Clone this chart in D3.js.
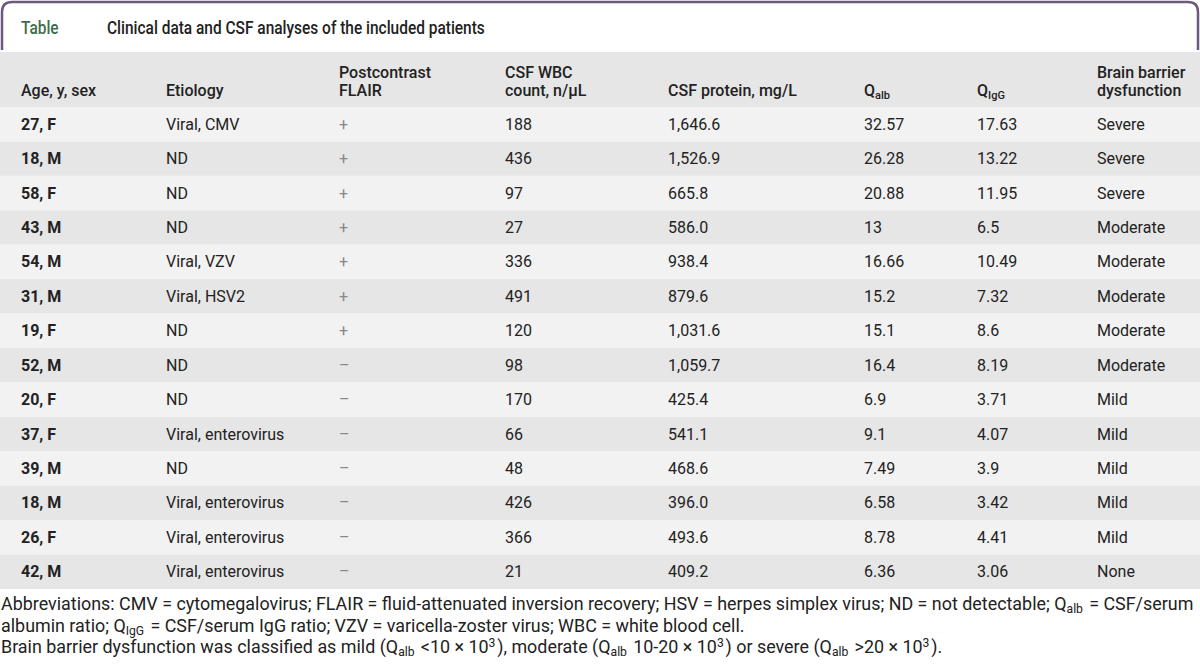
<!DOCTYPE html>
<html>
<head>
<meta charset="utf-8">
<script src="https://cdn.jsdelivr.net/npm/d3@7"></script>
<style>
  body { margin: 0; background: #fff; }
  svg text { font-family: Roboto, "Liberation Sans", sans-serif; fill: #222; }
</style>
</head>
<body>
<div id="chart"></div>
<script>
var width = 1200, height = 670;

// table content
var ages      = ["27, F","18, M","58, F","43, M","54, M","31, M","19, F","52, M","20, F","37, F","39, M","18, M","26, F","42, M"];
var etiology  = ["Viral, CMV","ND","ND","ND","Viral, VZV","Viral, HSV2","ND","ND","ND","Viral, enterovirus","ND","Viral, enterovirus","Viral, enterovirus","Viral, enterovirus"];
var flair     = ["+","+","+","+","+","+","+","–","–","–","–","–","–","–"];
var wbc       = ["188","436","97","27","336","491","120","98","170","66","48","426","366","21"];
var protein   = ["1,646.6","1,526.9","665.8","586.0","938.4","879.6","1,031.6","1,059.7","425.4","541.1","468.6","396.0","493.6","409.2"];
var qalb      = ["32.57","26.28","20.88","13","16.66","15.2","15.1","16.4","6.9","9.1","7.49","6.58","8.78","6.36"];
var qigg      = ["17.63","13.22","11.95","6.5","10.49","7.32","8.6","8.19","3.71","4.07","3.9","3.42","4.41","3.06"];
var barrier   = ["Severe","Severe","Severe","Moderate","Moderate","Moderate","Moderate","Moderate","Mild","Mild","Mild","Mild","Mild","None"];
var headers   = [["Age, y, sex"],["Etiology"],["Postcontrast","FLAIR"],["CSF WBC","count, n/\u03bcL"],["CSF protein, mg/L"],["Q|alb"],["Q|IgG"],["Brain barrier","dysfunction"]];
var notes = [
  "Abbreviations: CMV = cytomegalovirus; FLAIR = fluid-attenuated inversion recovery; HSV = herpes simplex virus; ND = not detectable; Q|alb| = CSF/serum",
  "albumin ratio; Q|IgG| = CSF/serum IgG ratio; VZV = varicella-zoster virus; WBC = white blood cell.",
  "Brain barrier dysfunction was classified as mild (Q|alb| <10 \u00d7 10^3^), moderate (Q|alb| 10-20 \u00d7 10^3^) or severe (Q|alb| >20 \u00d7 10^3^)."
];

var columns = [ages, etiology, flair, wbc, protein, qalb, qigg, barrier];
var colX = [21, 166, 339, 505, 668, 864, 977, 1097];

var svg = d3.select("#chart").append("svg")
    .attr("width", width)
    .attr("height", height);

// title box
svg.append("path")
    .attr("d", "M2,50 L2,12 Q2,2 12,2 L1188,2 Q1198,2 1198,12 L1198,50")
    .attr("fill", "none")
    .attr("stroke", "#6b5a80")
    .attr("stroke-width", 2.5);

// title: tall type squeezed horizontally, like the condensed face of the original
var tag = svg.append("text").attr("x", 0).attr("y", 0)
    .style("font-size", "19px").style("font-weight", 500)
    .style("fill", "#3f6e4c").text("Table");
var title = svg.append("text").attr("x", 0).attr("y", 0)
    .style("font-size", "19px").style("font-weight", 500)
    .text("Clinical data and CSF analyses of the included patients");
var sx = 378 / title.node().getComputedTextLength();
title.attr("transform", "translate(107,34) scale(" + sx + ",1)");
tag.attr("transform", "translate(21,34) scale(" + sx + ",1)");

// header band
svg.append("rect").attr("x", 0).attr("y", 52).attr("width", width).attr("height", 55)
    .attr("fill", "#e6e6e6");

function subText(sel, str) {
  var parts = str.split("|");
  sel.append("tspan").text(parts[0]);
  if (parts[1]) sel.append("tspan").attr("dy", 3).style("font-size", "11px").text(parts[1]);
}

var head = svg.append("g").selectAll("g").data(headers).join("g");
head.each(function(lines, i) {
  var g = d3.select(this);
  lines.forEach(function(l, j) {
    var t = g.append("text")
        .attr("x", colX[i])
        .attr("y", 96 - (lines.length - 1 - j) * 18)
        .style("font-size", "16px").style("font-weight", 500);
    subText(t, l);
  });
});

// rows
var y = d3.scaleBand().domain(d3.range(ages.length)).range([107, 589]);

svg.append("g").selectAll("rect").data(ages).join("rect")
    .attr("x", 0).attr("y", function(d, i) { return y(i); })
    .attr("width", width).attr("height", y.bandwidth())
    .attr("fill", function(d, i) { return i % 2 ? "#e6e6e6" : "#f2f2f2"; });

columns.forEach(function(col, c) {
  svg.append("g").selectAll("text").data(col).join("text")
      .attr("x", colX[c])
      .attr("y", function(d, i) { return y(i) + y.bandwidth() / 2 + 5.5; })
      .style("font-size", "16px")
      .style("font-weight", c === 0 ? 700 : 400)
      .style("fill", c === 2 ? "#888" : "#222")
      .text(function(d) { return d; });
});

// footnotes
var noteSize = 16;
var noteTexts = notes.map(function(n, k) {
  var t = svg.append("text").attr("x", 1).attr("y", 610 + k * 21.5).style("font-size", noteSize + "px");
  // split subscripts (|..|) and superscripts (^..^)
  var tokens = n.split(/(\|[^|]*\||\^[^^]*\^)/);
  tokens.forEach(function(tok) {
    if (!tok) return;
    if (tok[0] === "|") {
      t.append("tspan").attr("dy", 3).style("font-size", "0.68em").text(tok.slice(1, -1));
      t.append("tspan").attr("dy", -3).text("\u200a");
    } else if (tok[0] === "^") {
      t.append("tspan").attr("dy", -6).style("font-size", "0.68em").text(tok.slice(1, -1));
      t.append("tspan").attr("dy", 6).text("\u200a");
    } else {
      t.append("tspan").text(tok);
    }
  });
  return t;
});
// first line spans the full width in the reference
var nl = noteTexts[0].node().getComputedTextLength();
var fitted = noteSize * 1193 / nl;
noteTexts.forEach(function(t) { t.style("font-size", fitted + "px"); });
</script>
</body>
</html>
